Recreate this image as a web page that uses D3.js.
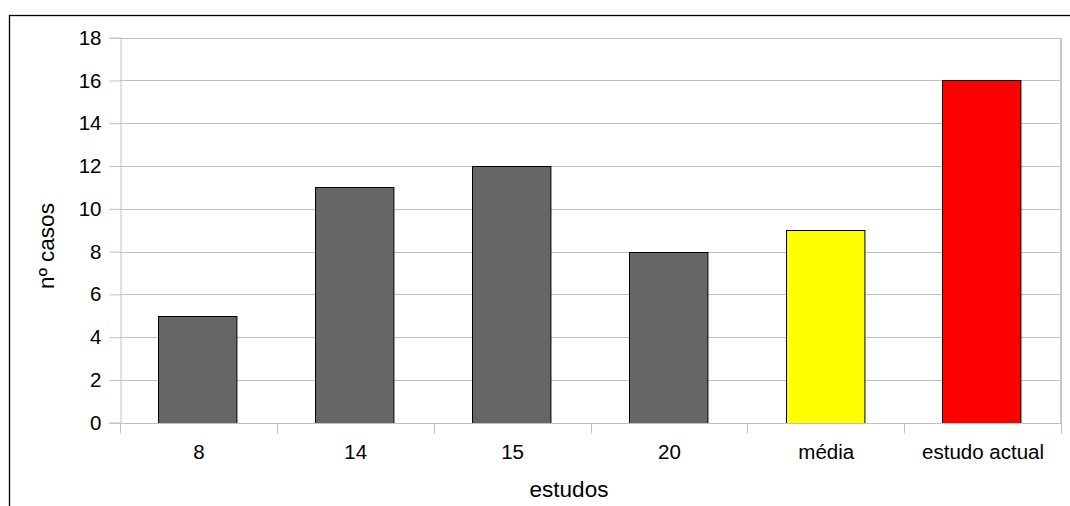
<!DOCTYPE html>
<html>
<head>
<meta charset="utf-8">
<script src="https://cdn.jsdelivr.net/npm/d3@7"></script>
<style>
  html, body { margin: 0; padding: 0; background: #fff; }
  svg { display: block; font-family: "Liberation Sans", Arial, sans-serif; }
</style>
</head>
<body>
<svg id="chart" width="1070" height="506"></svg>
<script>
const categories = ["8", "14", "15", "20", "média", "estudo actual"];
const values = [5, 11, 12, 8, 9, 16];
const barColors = ["#666666", "#666666", "#666666", "#666666", "#ffff00", "#ff0000"];
const yTicks = [0, 2, 4, 6, 8, 10, 12, 14, 16, 18];
const xTitle = "estudos";
const yTitle = "nº casos";

const svg = d3.select("#chart");
const W = 1070, H = 506;
const plot = { left: 120, right: 1061, top: 37.7, bottom: 422.7 };

// outer chart border (extends past the canvas on right and bottom)
svg.append("rect")
  .attr("x", 9.5).attr("y", 15.5)
  .attr("width", W + 20).attr("height", H + 20)
  .attr("fill", "#fff").attr("stroke", "#000").attr("stroke-width", 1.3);

const x = d3.scaleBand().domain(categories).range([plot.left, plot.right]).paddingInner(0.5).paddingOuter(0.25);
const y = d3.scaleLinear().domain([0, 18]).range([plot.bottom, plot.top]);

// gridlines
svg.append("g").selectAll("line").data(yTicks).join("line")
  .attr("x1", plot.left).attr("x2", plot.right)
  .attr("y1", d => Math.round(y(d)) + 0.5).attr("y2", d => Math.round(y(d)) + 0.5)
  .attr("stroke", "#c0c0c0").attr("stroke-width", 1);

// plot area right border
svg.append("line")
  .attr("x1", plot.right).attr("x2", plot.right)
  .attr("y1", Math.round(y(18))).attr("y2", Math.round(y(0)) + 1)
  .attr("stroke", "#c8c8c8").attr("stroke-width", 2);

// bars
svg.append("g").selectAll("rect").data(values).join("rect")
  .attr("x", (d, i) => Math.round(x(categories[i])) - 0.5)
  .attr("y", d => Math.round(y(d)) + 0.5)
  .attr("width", x.bandwidth())
  .attr("height", d => Math.round(y(0)) - Math.round(y(d)))
  .attr("fill", (d, i) => barColors[i])
  .attr("stroke", "#000").attr("stroke-width", 1);

// y axis
const yAxis = d3.axisLeft(y).tickValues(yTicks).tickSize(11).tickPadding(8);
const gy = svg.append("g").attr("transform", `translate(${plot.left + 0.5},0)`).call(yAxis);
gy.select(".domain").attr("stroke", "#c0c0c0");
gy.selectAll(".tick line").attr("stroke", "#c0c0c0");
gy.selectAll(".tick text").attr("font-size", 20.5).attr("fill", "#000")
  .attr("font-family", "'Liberation Sans', Arial, sans-serif");

// x axis with ticks between categories
const xb = d3.scalePoint().domain(d3.range(categories.length + 1)).range([plot.left, plot.right]);
const gx = svg.append("g").attr("transform", `translate(0.5,${Math.round(plot.bottom) + 0.5})`);
gx.append("line").attr("x1", plot.left).attr("x2", plot.right).attr("stroke", "#c0c0c0");
gx.selectAll("line.tk").data(d3.range(categories.length + 1)).join("line").attr("class", "tk")
  .attr("x1", d => Math.round(xb(d))).attr("x2", d => Math.round(xb(d)))
  .attr("y1", 0).attr("y2", 10).attr("stroke", "#c0c0c0");
gx.selectAll("text").data(categories).join("text")
  .attr("x", d => x(d) + x.bandwidth() / 2)
  .attr("y", 35)
  .attr("text-anchor", "middle")
  .attr("font-size", 20.5).attr("fill", "#000")
  .text(d => d);

// axis titles
svg.append("text")
  .attr("x", 569).attr("y", 497)
  .attr("text-anchor", "middle").attr("font-size", 22.5).attr("fill", "#000")
  .text(xTitle);
svg.append("text")
  .attr("transform", "translate(54,246) rotate(-90)")
  .attr("text-anchor", "middle").attr("font-size", 22.5).attr("fill", "#000")
  .text(yTitle);
</script>
</body>
</html>
